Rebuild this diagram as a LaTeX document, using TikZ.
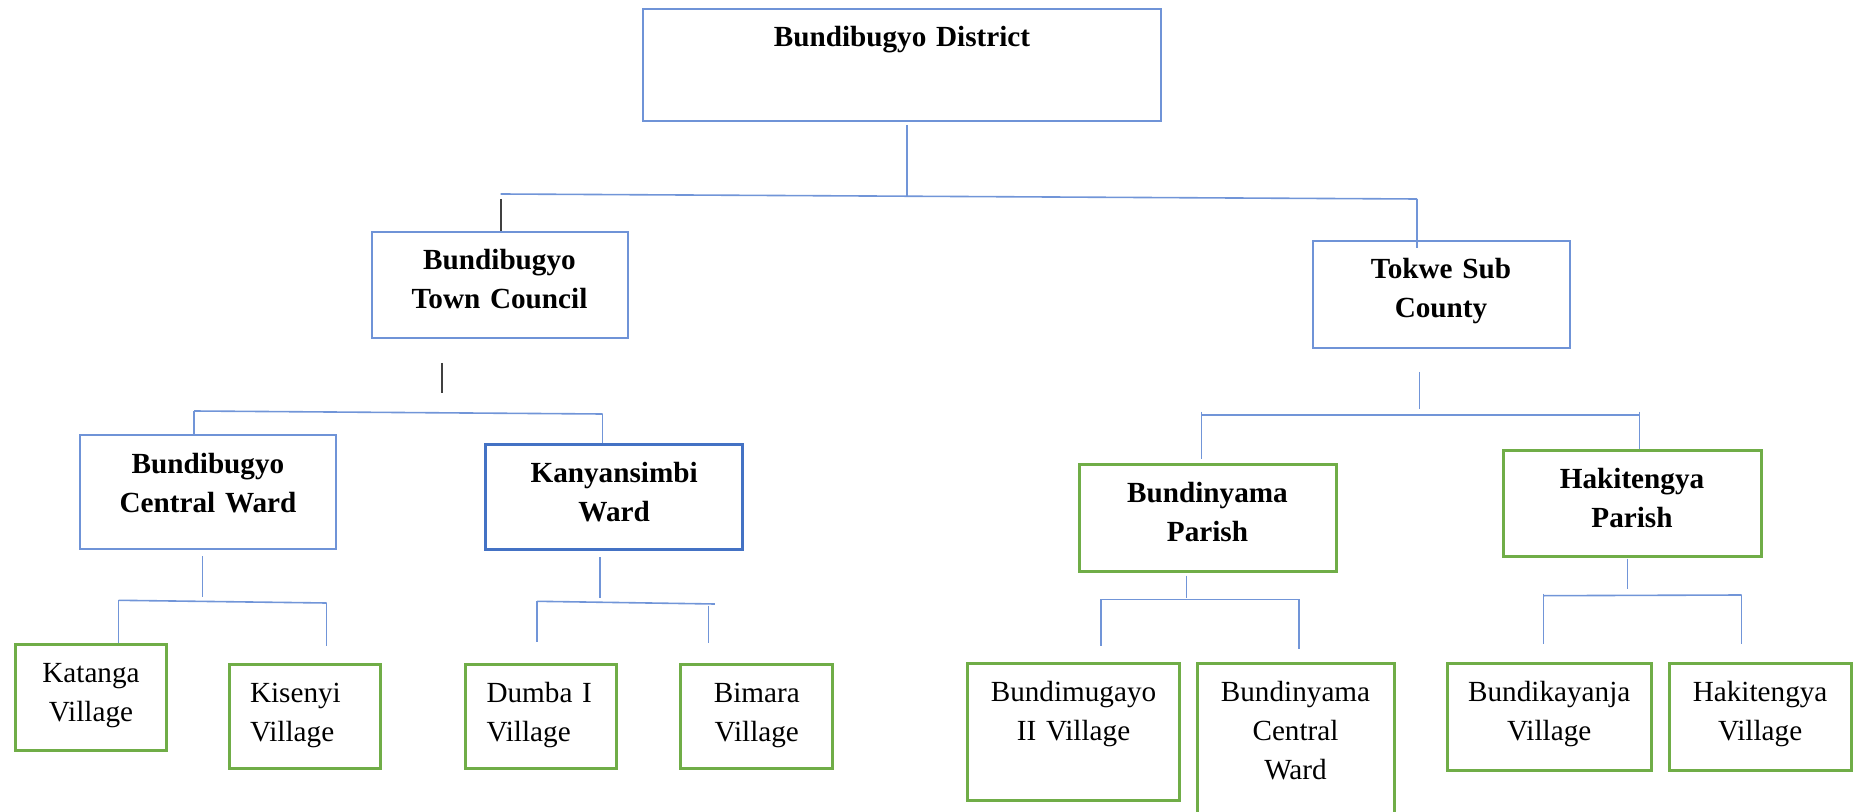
\documentclass[tikz,border=0pt]{standalone}
\usepackage{fontspec}
\setmainfont{Liberation Serif}
\usetikzlibrary{positioning,calc}
\definecolor{boxblue}{HTML}{6F93D7}
\definecolor{darkblue}{HTML}{4472C4}
\definecolor{boxgreen}{HTML}{70AD47}
\definecolor{linkblue}{HTML}{7195D8}
\definecolor{linkgray}{HTML}{404040}
\tikzstyle{unit} = [
rectangle,
anchor=north west,
inner sep=0pt,
align=center,
text height=19pt,
font=\fontsize{14.6pt}{19.5pt}\selectfont
]
\tikzstyle{ward} = [
unit,
draw=boxblue,
line width=1pt,
font=\fontsize{14.6pt}{19.5pt}\selectfont\bfseries
]
\tikzstyle{kward} = [ward, draw=darkblue, line width=1.6pt]
\tikzstyle{parish} = [ward, draw=boxgreen, line width=1.5pt]
\tikzstyle{village} = [unit, draw=boxgreen, line width=1.5pt]
\tikzstyle{link} = [draw=linkblue, line width=0.8pt]
\tikzstyle{blink} = [draw=linkgray, line width=1pt]

\begin{document}
\begin{tikzpicture}[x=0.5pt, y=-0.5pt]
	\useasboundingbox (0,0) rectangle (1856,812);

	\node[ward, text width=259pt, text depth=37pt] (district) at (642,8) {Bundibugyo District};
	\node[ward, text width=128pt, text depth=34.25pt] (towncouncil) at (370.5,231) {Bundibugyo\\Town Council};
	\node[ward, text width=128.5pt, text depth=34.5pt] (tokwe) at (1311.5,240) {Tokwe Sub\\County};

	\node[ward, text width=128pt, text depth=38pt] (centralward) at (79,434.4) {Bundibugyo\\Central Ward};
	\node[kward, text width=128.5pt, text depth=33.5pt] (kanyansimbi) at (484,443) {Kanyansimbi\\Ward};
	\node[parish, text width=128.5pt, text depth=34.25pt] (bundinyama) at (1077.5,463) {Bundinyama\\Parish};
	\node[parish, text width=129pt, text depth=34pt] (hakitengya) at (1501.5,448.7) {Hakitengya\\Parish};

	\node[village, text width=75.5pt, text depth=34.3pt] (katanga) at (14,642.7) {Katanga\\Village};
	\node[village, align=left, inner xsep=10.5pt, text width=54.5pt, text depth=33pt] (kisenyi) at (227.5,663) {Kisenyi\\Village};
	\node[village, align=left, inner xsep=10.5pt, text width=54.5pt, text depth=33pt] (dumba) at (464,663) {Dumba I\\Village};
	\node[village, text width=76pt, text depth=33pt] (bimara) at (679.3,662.5) {Bimara\\Village};
	\node[village, text width=106pt, text depth=49.5pt] (bundimugayo) at (966,662.3) {Bundimugayo\\II Village};
	\node[village, text width=98.5pt, text depth=66pt] (bcentral) at (1195.5,662.3) {Bundinyama\\Central\\Ward};
	\node[village, text width=102pt, text depth=34.2pt] (bundikayanja) at (1445.7,662.3) {Bundikayanja\\Village};
	\node[village, text width=91pt, text depth=34.2pt] (hvillage) at (1667.6,662.3) {Hakitengya\\Village};

	% district level
	\coordinate (dstub) at (906.7,196.4);
	\coordinate (dbarL) at (500.7,194);
	\coordinate (dbarR) at (1417,199);
	\draw[link] ($(district.south -| dstub)+(0,3)$) -- (dstub);
	\draw[link] (dbarL) -- (dbarR);
	\draw[blink] ($(dbarL)+(0,5)$) -- (towncouncil.north -| dbarL);
	\draw[link] (dbarR) -- ($(tokwe.north -| dbarR)+(0,8)$);

	% town council
	\coordinate (tcstub) at (441.5,393);
	\coordinate (tcbarL) at (194,411);
	\coordinate (tcbarR) at (602.5,414);
	\draw[blink] ($(tcstub)+(0,-30)$) -- (tcstub);
	\draw[link] (tcbarL) -- (tcbarR);
	\draw[link] (tcbarL) -- (centralward.north -| tcbarL);
	\draw[link] (tcbarR) -- (kanyansimbi.north -| tcbarR);

	% tokwe sub county
	\coordinate (tkstub) at (1419.5,409);
	\coordinate (tkbarL) at (1201.5,415);
	\coordinate (tkbarR) at (1639.5,415);
	\draw[link] ($(tkstub)+(0,-37)$) -- (tkstub);
	\draw[link] (tkbarL) -- (tkbarR);
	\draw[link] ($(tkbarL)+(0,-3.5)$) -- ($(bundinyama.north -| tkbarL)+(0,-4)$);
	\draw[link] ($(tkbarR)+(0,-3.5)$) -- (hakitengya.north -| tkbarR);

	% central ward
	\coordinate (cwstub) at (202.4,597);
	\coordinate (cwbarL) at (118.5,600.3);
	\coordinate (cwbarR) at (326.6,603);
	\draw[link] ($(centralward.south -| cwstub)+(0,6)$) -- (cwstub);
	\draw[link] (cwbarL) -- (cwbarR);
	\draw[link] (cwbarL) -- (katanga.north -| cwbarL);
	\draw[link] (cwbarR) -- ($(kisenyi.north -| cwbarR)+(0,-17)$);

	% kanyansimbi ward
	\coordinate (kwstub) at (600,597.7);
	\coordinate (kwbarL) at (537,601.3);
	\coordinate (kwbarR) at (714.8,604);
	\draw[link] ($(kanyansimbi.south -| kwstub)+(0,6)$) -- (kwstub);
	\draw[link] (kwbarL) -- (kwbarR);
	\draw[link] (kwbarL) -- ($(dumba.north -| kwbarL)+(0,-21)$);
	\draw[link] (708.3,605.7) -- ($(bimara.north -| 708.3,0)+(0,-20)$);

	% bundinyama parish
	\coordinate (bpstub) at (1186.6,598.3);
	\coordinate (bpbarL) at (1100.8,599.3);
	\coordinate (bpbarR) at (1299,599.3);
	\draw[link] ($(bundinyama.south -| bpstub)+(0,3)$) -- (bpstub);
	\draw[link] (bpbarL) -- (bpbarR);
	\draw[link] (bpbarL) -- ($(bundimugayo.north -| bpbarL)+(0,-16)$);
	\draw[link] (bpbarR) -- ($(bcentral.north -| bpbarR)+(0,-13)$);

	% hakitengya parish
	\coordinate (hpstub) at (1627.4,588.7);
	\coordinate (hpbarL) at (1543.4,595.7);
	\coordinate (hpbarR) at (1741.6,595);
	\draw[link] ($(hakitengya.south -| hpstub)+(0,1)$) -- (hpstub);
	\draw[link] (hpbarL) -- (hpbarR);
	\draw[link] ($(hpbarL)+(0,-2)$) -- ($(bundikayanja.north -| hpbarL)+(0,-18)$);
	\draw[link] (hpbarR) -- ($(hvillage.north -| hpbarR)+(0,-18)$);
\end{tikzpicture}
\end{document}
